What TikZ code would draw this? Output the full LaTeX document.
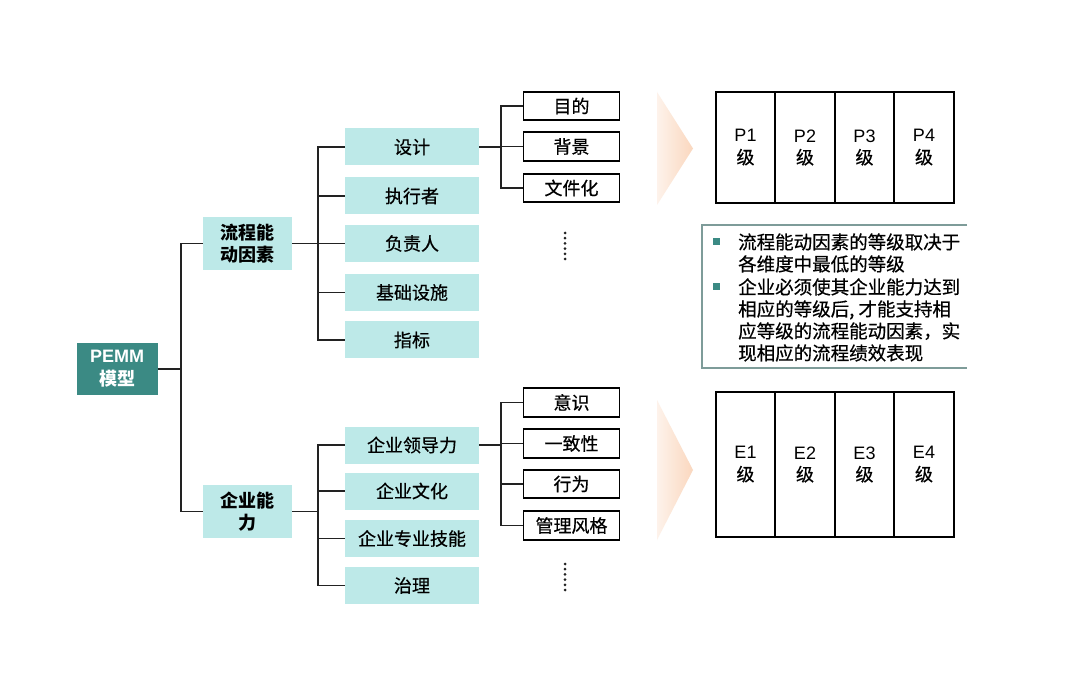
\documentclass[tikz,border=0pt]{standalone}
\usepackage{fontspec}
\setmainfont{Noto Sans CJK SC}[UprightFeatures={FakeBold=0.6}]
\newfontfamily\lat{Liberation Sans}
\definecolor{tealroot}{HTML}{3B8A84}
\definecolor{cyanbox}{HTML}{BDE9E8}
\definecolor{lnc}{HTML}{222222}
\definecolor{peach}{HTML}{F9CDAE}
\definecolor{notegray}{HTML}{7E9C99}
\tikzset{
 rootbox/.style={fill=tealroot, text=white, font=\fontsize{18}{23}\selectfont\bfseries, minimum width=81pt, minimum height=51pt, align=center, inner sep=0pt},
 lvone/.style={fill=cyanbox, font=\fontsize{18}{22}\selectfont\bfseries, minimum width=89pt, minimum height=53pt, align=center, inner sep=0pt},
 lvtwo/.style={fill=cyanbox, font=\fontsize{18}{22}\selectfont, minimum width=134pt, minimum height=37pt, inner sep=0pt},
 lvthree/.style={draw=black, line width=1.6pt, fill=white, font=\fontsize{18}{22}\selectfont, minimum width=96pt, minimum height=28.5pt, inner sep=0pt},
 cell/.style={draw=black, line width=1.6pt, minimum width=59.5pt, font=\fontsize{18}{22}\selectfont, align=center, inner sep=0pt},
 conn/.style={draw=lnc, line width=1.8pt},
 dotsline/.style={draw=lnc, line width=3pt, line cap=round, dash pattern=on 0pt off 5.2pt},
 noteline/.style={anchor=base west, inner sep=0pt, font=\fontsize{18.5}{22}\selectfont},
 bulletsq/.style={fill=tealroot, minimum size=7pt, inner sep=0pt},
}
\begin{document}
\begin{tikzpicture}[x=1pt,y=-1pt]
\useasboundingbox[fill=white] (0,0) rectangle (1080,695);

% root
\node[rootbox] (root) at (117,369) {{\lat PEMM}\\模型};

% level one
\node[lvone] (pa) at (247.5,243.5) {流程能\\动因素};
\node[lvone] (pb) at (247.5,511.5) {企业能\\力};

% level two (upper)
\node[lvtwo] (a1) at (412,147) {设计};
\node[lvtwo] (a2) at (412,196) {执行者};
\node[lvtwo] (a3) at (412,243.5) {负责人};
\node[lvtwo] (a4) at (412,292.5) {基础设施};
\node[lvtwo] (a5) at (412,340) {指标};

% level two (lower)
\node[lvtwo] (b1) at (412,445) {企业领导力};
\node[lvtwo] (b2) at (412,491) {企业文化};
\node[lvtwo] (b3) at (412,538.5) {企业专业技能};
\node[lvtwo] (b4) at (412,585.5) {治理};

% level three
\node[lvthree] (c1) at (571.5,106) {目的};
\node[lvthree] (c2) at (571.5,146.5) {背景};
\node[lvthree] (c3) at (571.5,188) {文件化};
\node[lvthree] (d1) at (571.5,402.5) {意识};
\node[lvthree] (d2) at (571.5,443.5) {一致性};
\node[lvthree] (d3) at (571.5,484) {行为};
\node[lvthree] (d4) at (571.5,525.5) {管理风格};

% junctions
\coordinate (jr) at (181,369);
\coordinate (ja) at (318,243.5);
\coordinate (jb) at (318,511.5);
\coordinate (jc) at (501,147);
\coordinate (jd) at (501,445);

\draw[conn] (root.east) -- (jr);
\draw[conn] (jr) |- (pa.west);
\draw[conn] (jr) |- (pb.west);
\draw[conn] (pa.east) -- (ja);
\foreach \n in {a1,a2,a3,a4,a5} \draw[conn] (ja) |- (\n.west);
\draw[conn] (pb.east) -- (jb);
\foreach \n in {b1,b2,b3,b4} \draw[conn] (jb) |- (\n.west);
\draw[conn] (a1.east) -- (jc);
\foreach \n in {c1,c2,c3} \draw[conn] (jc) |- (\n.west);
\draw[conn] (b1.east) -- (jd);
\foreach \n in {d1,d2,d3,d4} \draw[conn] (jd) |- (\n.west);

% dots
\draw[dotsline] (565,233) -- (565,264);
\draw[dotsline] (565,564) -- (565,595);

% chevrons
\shade[left color=peach!25, middle color=peach, right color=peach!80] (657,92) -- (693,148.5) -- (657,205) -- cycle;
\shade[left color=peach!25, middle color=peach, right color=peach!80] (657,400) -- (693,470) -- (657,540) -- cycle;

% P table
\foreach \i/\x in {1/745.5,2/805,3/864.5,4/924}
  \node[cell, minimum height=111pt] (p\i) at (\x,147.5) {{\lat P\i}\\级};
% E table
\foreach \i/\x in {1/745.5,2/805,3/864.5,4/924}
  \node[cell, minimum height=145pt] (e\i) at (\x,464.5) {{\lat E\i}\\级};

% note box
\draw[notegray, line width=1.3pt] (967,225) -- (702,225) -- (702,368) -- (967,368);
\node[bulletsq] (q1) at (716,242) {};
\node[bulletsq] (q2) at (716,287) {};
\node[noteline] (n1) at (738,249) {流程能动因素的等级取决于};
\node[noteline] (n2) at (738,271) {各维度中最低的等级};
\node[noteline] (n3) at (738,294) {企业必须使其企业能力达到};
\node[noteline] (n4) at (738,316) {相应的等级后, 才能支持相};
\node[noteline] (n5) at (738,338) {应等级的流程能动因素，实};
\node[noteline] (n6) at (738,360) {现相应的流程绩效表现};
\end{tikzpicture}
\end{document}
